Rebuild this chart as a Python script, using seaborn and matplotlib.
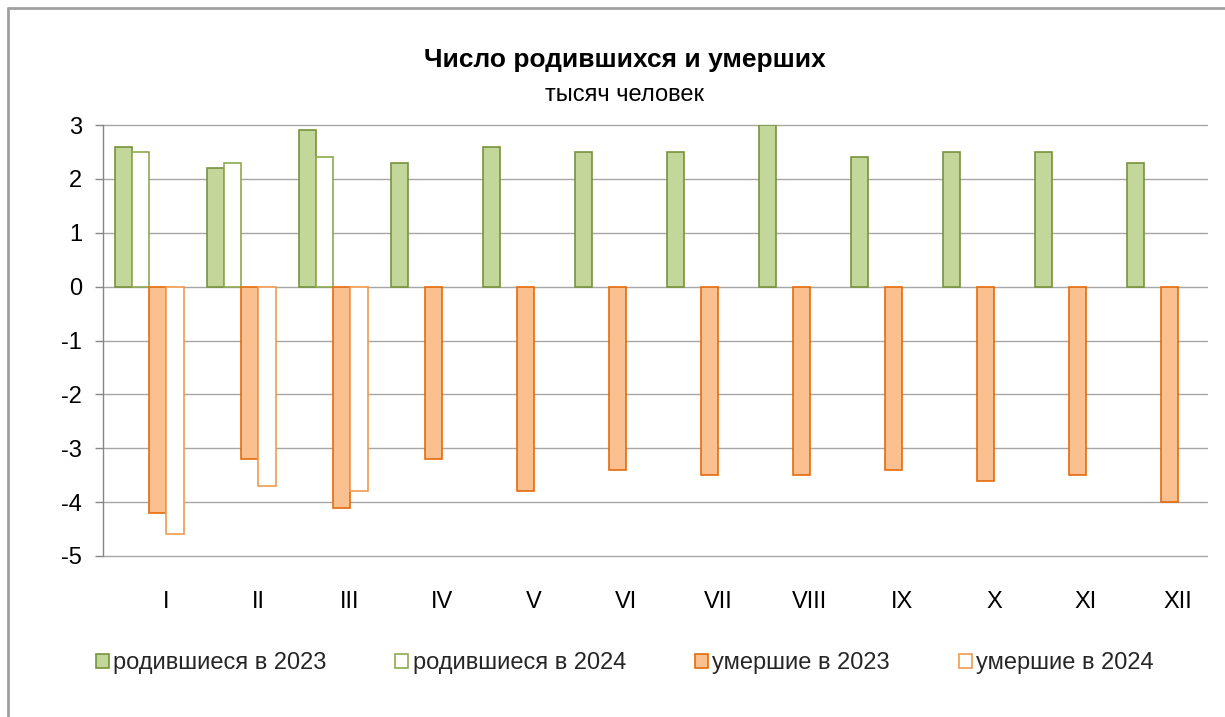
import numpy as np
import pandas as pd
import matplotlib
matplotlib.use("Agg")
import matplotlib.pyplot as plt
import matplotlib.transforms as mtransforms
from matplotlib.patches import Patch
from matplotlib.lines import Line2D
import seaborn as sns

months = ["I", "II", "III", "IV", "V", "VI", "VII", "VIII", "IX", "X", "XI", "XII"]
series = ["родившиеся в 2023", "родившиеся в 2024", "умершие в 2023", "умершие в 2024"]
births_2023 = [2.6, 2.2, 2.9, 2.3, 2.6, 2.5, 2.5, 3.0, 2.4, 2.5, 2.5, 2.3]
births_2024 = [2.5, 2.3, 2.4]
deaths_2023 = [-4.2, -3.2, -4.1, -3.2, -3.8, -3.4, -3.5, -3.5, -3.4, -3.6, -3.5, -4.0]
deaths_2024 = [-4.6, -3.7, -3.8]
y_ticks = [3, 2, 1, 0, -1, -2, -3, -4, -5]

title = "Число родившихся и умерших"
subtitle = "тысяч человек"

rows = []
for name, vals in zip(series, [births_2023, births_2024, deaths_2023, deaths_2024]):
    for m, v in zip(months, vals):
        rows.append({"month": m, "series": name, "value": v})
df = pd.DataFrame(rows)

sns.set_theme(style="white")
plt.rcParams["font.family"] = ["Liberation Sans", "DejaVu Sans"]

faces = ["#C4D79B", "#FFFFFF", "#FAC090", "#FFFFFF"]
edges = ["#77933C", "#8DAA52", "#E46C0A", "#F09A50"]

fig = plt.figure(figsize=(12.25, 7.17), dpi=100)
ax = fig.add_axes([103 / 1225, 1 - 556 / 717, (1207 - 103) / 1225, (556 - 125) / 717])

sns.barplot(data=df, x="month", y="value", hue="series", hue_order=series, order=months,
            palette=dict(zip(series, faces)), saturation=1, width=0.75, dodge=True,
            errorbar=None, legend=False, ax=ax)

for cont, fc, ec in zip(ax.containers, faces, edges):
    for bar in cont:
        bar.set_facecolor(fc)
        bar.set_edgecolor(ec)
        bar.set_linewidth(1.2)
        bar.set_zorder(3)

ax.set_ylim(-5, 3)
ax.set_xlim(-0.5, len(months) - 0.5)
ax.set_yticks(y_ticks)
ax.set_yticklabels([str(t) for t in y_ticks])
ax.set_xlabel("")
ax.set_ylabel("")
ax.yaxis.grid(True, color="#A6A6A6", linewidth=1.0, zorder=0)
for gl in ax.get_ygridlines():
    gl.set_clip_on(False)
ax.set_axisbelow(True)
for s in ["top", "right", "bottom"]:
    ax.spines[s].set_visible(False)
ax.spines["left"].set_color("#868686")
ax.spines["left"].set_linewidth(1.0)
ax.tick_params(axis="y", which="both", left=True, length=6, width=1.0, color="#868686",
               direction="out", pad=9, labelsize=17, labelcolor="black")
ax.tick_params(axis="x", which="both", bottom=False, length=0, pad=25, labelsize=17,
               labelcolor="black")
offset = mtransforms.ScaledTranslation(0.17, 0, fig.dpi_scale_trans)
for lab in ax.get_xticklabels():
    lab.set_transform(lab.get_transform() + offset)

fig.text(0.51, 1 - 60 / 717, title, ha="center", va="center", fontsize=19,
         fontweight="bold", color="black")
fig.text(0.51, 1 - 95 / 717, subtitle, ha="center", va="center", fontsize=17,
         color="black")

handles = [Patch(facecolor=fc, edgecolor=ec, linewidth=1.2) for fc, ec in zip(faces, edges)]
leg = fig.legend(handles, series, loc="center", bbox_to_anchor=(0.51, 1 - 663 / 717),
                 ncol=4, frameon=False, fontsize=17, handlelength=0.55, handleheight=0.55,
                 handletextpad=0.2, columnspacing=2.9)

# outer chart frame (left and top edges visible)
fig.add_artist(Line2D([8 / 1225, 8 / 1225], [0, 1 - 8 / 717], transform=fig.transFigure,
                      color="#A0A0A0", linewidth=2))
fig.add_artist(Line2D([8 / 1225, 1], [1 - 8 / 717, 1 - 8 / 717], transform=fig.transFigure,
                      color="#A0A0A0", linewidth=2))

fig.savefig("out.png", dpi=100, facecolor="white")
